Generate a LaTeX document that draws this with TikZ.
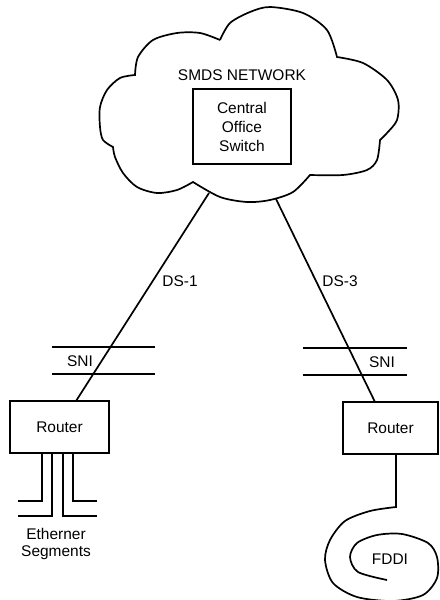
\documentclass[tikz,border=0pt]{standalone}
\usepackage{fontspec}
\setmainfont{Liberation Sans}
\begin{document}
\begin{tikzpicture}[x=0.03cm,y=-0.03cm,line width=1.45pt,
  every node/.style={font=\fontsize{13.2}{16.2}\selectfont, inner sep=0pt},
  boxn/.style={draw, line width=1.15pt},
  lbl/.style={align=center}]
\useasboundingbox (0,0) rectangle (439,600);
% cloud
\draw plot[smooth] coordinates {(220,40) (200,33) (177,33) (153,40) (138,57) (135,75)}
  -- plot[smooth] coordinates {(135,75) (120,78) (107,90) (100,107) (100,127) (103,140) (113,147)}
  -- plot[smooth] coordinates {(113,147) (115,157) (123,173) (137,187) (157,193) (177,190) (193,182)}
  -- plot[smooth] coordinates {(193,182) (220,197) (247,202) (270,200) (293,192) (310,175)}
  -- plot[smooth] coordinates {(310,175) (343,175) (367,170) (377,160) (380,140)}
  -- plot[smooth] coordinates {(380,140) (387,133) (397,120) (398,100) (387,80) (363,63) (337,57)}
  -- plot[smooth] coordinates {(337,57) (327,30) (303,13) (270,7) (250,12) (230,23) (220,40)};
\node[lbl] (net) at (242,75) {SMDS NETWORK};
\node[boxn, minimum width=2.94cm, minimum height=2.25cm, lbl] (cos) at (242,126.5) {Central\\Office\\Switch};
% routers
\node[boxn, minimum width=2.97cm, minimum height=1.56cm] (r1) at (59.5,427) {Router};
\node[boxn, minimum width=2.85cm, minimum height=1.56cm] (r2) at (390.5,428) {Router};
% connectors
\coordinate (ds1top) at (209,193);
\coordinate (ds1bot) at (76,401);
\coordinate (ds3top) at (276,199);
\coordinate (ds3bot) at (375,402);
\draw (ds1top) -- (ds1bot);
\draw (ds3top) -- (ds3bot);
\node (ds1) at (180,281) {DS-1};
\node (ds3) at (340,281) {DS-3};
% SNI lines
\coordinate (s1a) at (52,347); \coordinate (s1b) at (155,347);
\coordinate (s1c) at (52,374); \coordinate (s1d) at (155,374);
\draw (s1a) -- (s1b); \draw (s1c) -- (s1d);
\node (sni1) at (80,361) {SNI};
\coordinate (s2a) at (303,348); \coordinate (s2b) at (407,348);
\coordinate (s2c) at (303,375); \coordinate (s2d) at (407,375);
\draw (s2a) -- (s2b); \draw (s2c) -- (s2d);
\node (sni2) at (382,362) {SNI};
% ethernet segments
\draw (42,453) -- (42,501) -- (18,501);
\draw (52,453) -- (52,516) -- (18,516);
\draw (63,453) -- (63,516) -- (97,516);
\draw (73,453) -- (73,501) -- (97,501);
\node[lbl, font=\fontsize{13.2}{14.5}\selectfont] (eth) at (56,544) {Etherner\\Segments};
% FDDI
\coordinate (fd0) at (396,454);
\draw (fd0) -- (396,507) -- plot[smooth] coordinates {(396,507) (370,511) (345,521) (330,540) (325,560) (333,583) (357,597) (393,601) (423,595) (437,578) (437,557) (428,543) (402,534) (377,535) (357,543) (350,557) (358,572) (387,580)};
\node (fddi) at (390,559) {FDDI};
\end{tikzpicture}
\end{document}
